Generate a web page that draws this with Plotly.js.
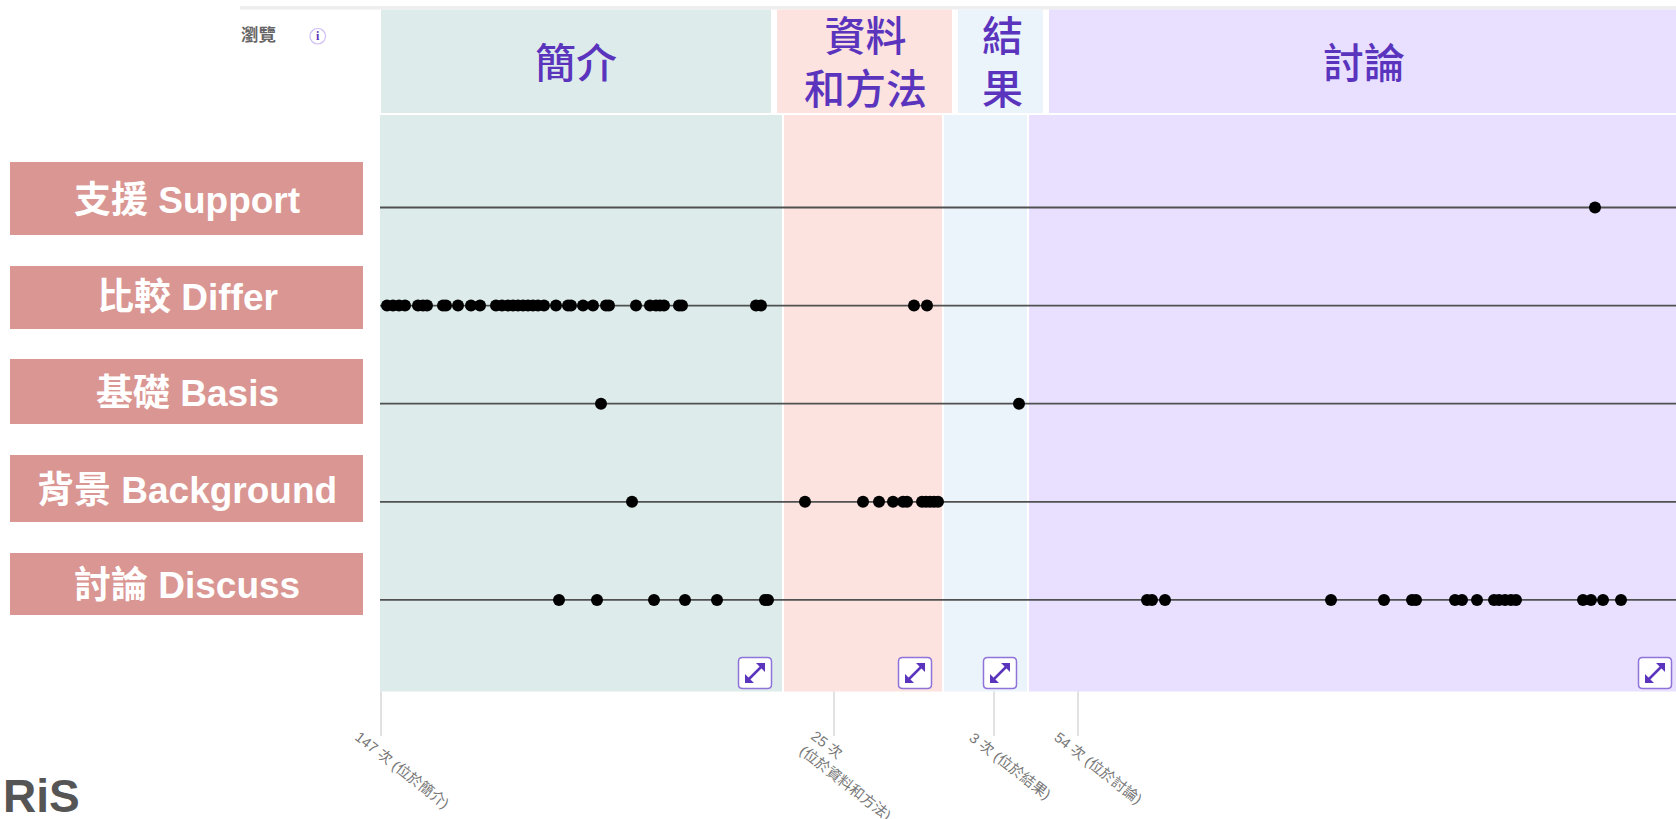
<!DOCTYPE html>
<html>
<head>
<meta charset="utf-8">
<script src="https://cdn.plot.ly/plotly-3.0.1.min.js"></script>
<style>html,body{margin:0;padding:0;background:#fff;overflow:hidden}#chart{width:1676px;height:819px}</style>
</head>
<body>
<div id="chart"></div>
<script>
// DATA
const rowLabels = ['支援 Support', '比較 Differ', '基礎 Basis', '背景 Background', '討論 Discuss'];
const supportX = [1595];
const differX = [387,393,399,405,418,423,427,443,446,458,471,480,496,502,508,513,518,523,528,533,538,544,556,568,571,583,593,606,609,636,650,656,660,664,679,682,756,761,914,927];
const basisX = [601,1019];
const backgroundX = [632,805,863,879,893,903,907,922,926,930,934,938];
const discussX = [559,597,654,685,717,765,768,1147,1152,1165,1331,1384,1412,1416,1455,1462,1477,1494,1499,1505,1511,1516,1583,1591,1603,1621];
const rowValues = [supportX, differX, basisX, backgroundX, discussX];
const sectionNames = ['簡介', '資料<br>和方法', '結<br>果', '討論'];
const sectionCounts = ['147 次 (位於簡介)', '25 次<br>(位於資料和方法)', '3 次 (位於結果)', '54 次 (位於討論)'];
const sectionColors = ['#DDECEB', '#FCE3DF', '#EBF3FB', '#E8E0FE'];

// LAYOUT
const W = 1676, H = 819;
const px = x => x / W, py = y => 1 - y / H;
const lineStart = 380, lineEnd = 1676;
const headBands = [[381,771],[777,952],[958,1043],[1049,1676]];
const bodyBands = [[380,782],[784,942],[944,1027],[1029,1676]];
const headCenters = [576,865,1002,1364];
const boxRows = [[162,235],[266,329],[359,424],[455,522],[553,615]];
const labelY = [200.5,297.5,393.5,490.5,585.5];
const iconX = [755,915,1000,1655];
const iconY = 673;
const tickX = [381,834,994,1078];
const countPos = [[402,770],[851,775],[1010,766],[1098,768]];
const purple = '#5B34BE';
const cjk = '"Liberation Sans","Noto Sans CJK TC",sans-serif';

const shapes = [], annotations = [];
const rect = (x0,x1,y0,y1,fill) => shapes.push({type:'rect',xref:'paper',yref:'paper',x0:px(x0),x1:px(x1),y0:py(y1),y1:py(y0),fillcolor:fill,line:{width:0},layer:'below'});
const seg = (x0,y0,x1,y1,color,width) => shapes.push({type:'line',xref:'paper',yref:'paper',x0:px(x0),x1:px(x1),y0:py(y0),y1:py(y1),line:{color:color,width:width},layer:'below'});
const note = (x,y,text,size,color,extra) => annotations.push(Object.assign({xref:'paper',yref:'paper',x:px(x),y:py(y),text:text,showarrow:false,xanchor:'center',yanchor:'middle',font:{size:size,color:color,family:cjk}},extra||{}));

rect(240,W,6,9.5,'#EEEEEE');
sectionColors.forEach((c,i) => {
  rect(headBands[i][0],headBands[i][1],9.5,113,c);
  rect(bodyBands[i][0],bodyBands[i][1],115,691.5,c);
  note(headCenters[i],60,sectionNames[i],41,purple,{font:{size:41,color:purple,family:'"Noto Sans CJK TC",sans-serif',weight:500}});
  seg(tickX[i],691.5,tickX[i],736,'#C4C4C4',1);
  note(countPos[i][0],countPos[i][1],sectionCounts[i],14.5,'#777777',{textangle:38,align:'left'});
});
rowLabels.forEach((t,i) => {
  rect(10,363,boxRows[i][0],boxRows[i][1],'#DA9692');
  note(187,labelY[i],t,37,'#FFFFFF',{font:{size:37,color:'#FFFFFF',family:cjk,weight:700}});
});

const P = (x,y) => px(x).toFixed(5)+','+py(y).toFixed(5);
iconX.forEach(cx => {
  const x0=cx-16.5,x1=cx+16.5,y0=iconY-15.5,y1=iconY+15.5,r=4;
  shapes.push({type:'path',xref:'paper',yref:'paper',fillcolor:'#FFFFFF',line:{color:'#8F73D9',width:1.5},layer:'above',
    path:`M${P(x0+r,y0)} L${P(x1-r,y0)} Q${P(x1,y0)} ${P(x1,y0+r)} L${P(x1,y1-r)} Q${P(x1,y1)} ${P(x1-r,y1)} L${P(x0+r,y1)} Q${P(x0,y1)} ${P(x0,y1-r)} L${P(x0,y0+r)} Q${P(x0,y0)} ${P(x0+r,y0)} Z`});
  seg(cx-8,iconY+8,cx+8,iconY-8,purple,2.5);
  shapes[shapes.length-1].layer='above';
  shapes.push({type:'path',xref:'paper',yref:'paper',fillcolor:purple,line:{width:0},layer:'above',
    path:`M${P(cx+10,iconY-10)} L${P(cx+1,iconY-10)} L${P(cx+10,iconY-1)} Z M${P(cx-10,iconY+10)} L${P(cx-1,iconY+10)} L${P(cx-10,iconY+1)} Z`});
});

// top-left header and logo
note(239,35,'瀏覽',17.5,'#666666',{xanchor:'left',font:{size:17.5,color:'#666666',family:cjk,weight:700}});
shapes.push({type:'circle',xref:'paper',yref:'paper',x0:px(310),x1:px(325.5),y0:py(44),y1:py(28.5),fillcolor:'#FFFFFF',line:{color:'#CDBDF2',width:1.2}});
note(317.7,36,'i',12,purple,{font:{size:12,color:purple,family:'"Liberation Serif",serif',weight:700}});
note(82,796,'RiS',46,'#555555',{xanchor:'right',font:{size:46,color:'#555555',family:'"Liberation Sans",sans-serif',weight:700}});

const traces = [];
rowLabels.forEach((name,i) => {
  traces.push({type:'scatter',mode:'lines',x:[lineStart,lineEnd],y:[name,name],line:{color:'#505050',width:1.8},hoverinfo:'skip',showlegend:false});
});
rowLabels.forEach((name,i) => {
  traces.push({type:'scatter',mode:'markers',name:name,x:rowValues[i],y:rowValues[i].map(()=>name),marker:{color:'#000000',size:12,line:{width:0}},showlegend:false});
});

Plotly.newPlot('chart',traces,{
  width:W,height:H,margin:{l:0,r:0,t:0,b:0},
  paper_bgcolor:'#FFFFFF',plot_bgcolor:'rgba(0,0,0,0)',showlegend:false,
  xaxis:{visible:false,range:[0,W],fixedrange:true},
  yaxis:{visible:false,type:'category',categoryorder:'array',categoryarray:rowLabels,range:[6.233,-2.115],fixedrange:true},
  shapes:shapes,annotations:annotations
},{displayModeBar:false,staticPlot:true});
</script>
</body>
</html>
